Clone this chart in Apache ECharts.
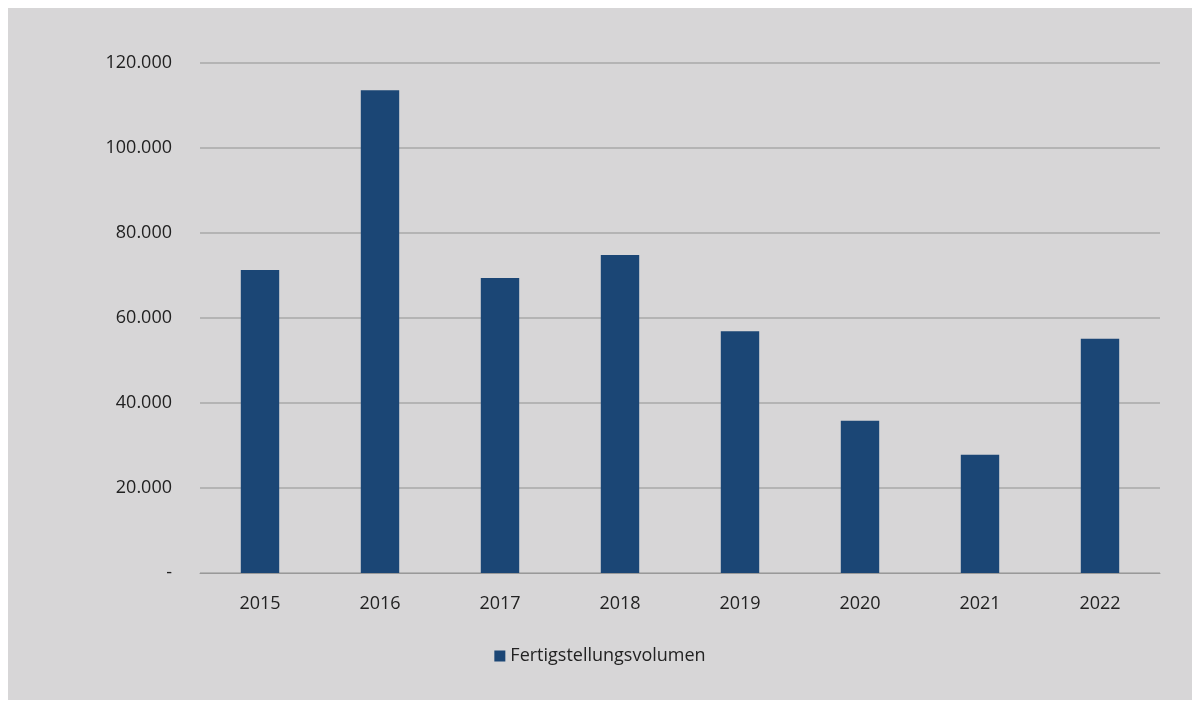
<!DOCTYPE html>
<html><head><meta charset="utf-8">
<script src="https://cdn.jsdelivr.net/npm/echarts@6/dist/echarts.min.js"></script>
<style>html,body{margin:0;padding:0;background:#fff;}#c{position:absolute;left:8px;top:8px;width:1184px;height:692px;background:#d7d6d7;}</style>
</head><body><div id="c"></div>
<script>
const categories = ['2015','2016','2017','2018','2019','2020','2021','2022'];
const values = [71300, 113600, 69400, 74800, 56900, 35800, 27800, 55100];
const seriesName = 'Fertigstellungsvolumen';
const chart = echarts.init(document.getElementById('c'));
chart.setOption({
  backgroundColor: '#d7d6d7',
  textStyle: {fontFamily: 'Open Sans'},
  grid: {left: 192, right: 32, top: 55, bottom: 127},
  legend: {bottom: 30, left: 'center', itemWidth: 11, itemHeight: 11, icon: 'rect',
    textStyle: {fontSize: 18, color: '#222'}, data: [seriesName]},
  xAxis: {type: 'category', data: categories,
    axisLine: {lineStyle: {color: '#999'}}, axisTick: {show: false},
    axisLabel: {fontSize: 18, color: '#222', margin: 22}},
  yAxis: {type: 'value', min: 0, max: 120000, interval: 20000,
    axisLabel: {fontSize: 18, color: '#222', margin: 28,
      formatter: v => v === 0 ? '-' : v.toLocaleString('de-DE')},
    splitLine: {lineStyle: {color: '#a8a8a8', width: 1.5}}},
  series: [{name: seriesName, type: 'bar', data: values, barWidth: '32%',
    itemStyle: {color: '#1b4675'}}]
});
</script></body></html>
